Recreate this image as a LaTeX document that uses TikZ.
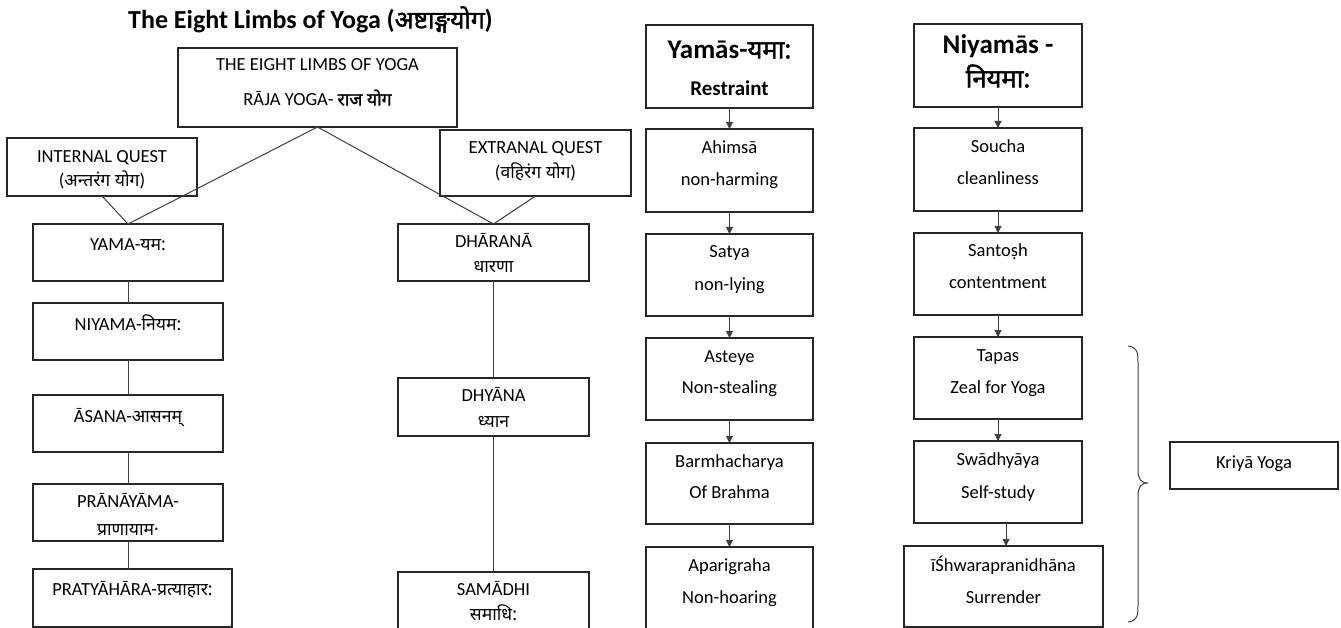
\documentclass[tikz,border=0pt]{standalone}
\usepackage{fontspec}
\setmainfont{Carlito}
\newfontfamily\dev[Script=Devanagari,Scale=0.95]{Noto Sans}
\newfontfamily\devb[Script=Devanagari,Scale=0.95,FakeBold=1.6]{Noto Sans}
\usetikzlibrary{arrows.meta}
\newcommand\dv[1]{{\dev #1}}
\newcommand\dvb[1]{{\devb #1}}
\newcommand\bx[5]{\node[box,minimum width=#4pt,minimum height=#5pt] (#1) at (#2,#3) {};}
\tikzset{
  box/.style={draw=black!85, line width=1.2pt, rectangle, inner sep=0pt, outer sep=0pt},
  txt/.style={anchor=mid, inner sep=0pt, yshift=-3pt, font=\fontsize{18.5}{21}\selectfont},
  btxt/.style={anchor=mid, inner sep=0pt, yshift=-2pt, font=\fontsize{27}{30}\selectfont\bfseries},
  conn/.style={draw=black!75, line width=1pt},
  arr/.style={draw=black!75, line width=1pt, -{Triangle[width=7pt,length=7pt]}},
}
\begin{document}
\begin{tikzpicture}[x=1pt,y=-1pt]
\fill[white] (0,0) rectangle (1341,628);
\useasboundingbox (0,0) rectangle (1341,628);

% title
\node[anchor=mid, inner sep=0pt, yshift=-2pt, font=\fontsize{26}{30}\selectfont\bfseries] (title) at (310.5,24) {The Eight Limbs of Yoga (\dvb{अष्टाङ्गयोग})};

% left tree boxes
\bx{top}{317.5}{87.5}{279}{79}
\bx{inq}{102}{167}{190}{58}
\bx{exq}{535.5}{163}{191}{66}
\bx{yama}{128}{252.5}{190}{57}
\bx{niyama}{128}{331.5}{190}{57}
\bx{asana}{128}{423.5}{190}{57}
\bx{prana}{128}{512.5}{190}{57}
\bx{praty}{132.5}{598}{199}{58}
\bx{dhar}{493.5}{252.5}{191}{57}
\bx{dhya}{493.5}{407}{191}{58}
\bx{sama}{493.5}{603}{191}{62}

% Yamas column
\bx{yamas}{729.5}{66.5}{167}{83}
\bx{ahimsa}{729.5}{170.5}{167}{83}
\bx{satya}{729.5}{275}{167}{82}
\bx{asteye}{729.5}{379}{167}{82}
\bx{brahm}{729.5}{483.5}{167}{81}
\bx{apari}{729.5}{590.5}{167}{87}

% Niyamas column
\bx{niyamas}{998}{65.5}{168}{83}
\bx{soucha}{998}{169.5}{168}{83}
\bx{santosh}{998}{274}{168}{82}
\bx{tapas}{998}{378}{168}{82}
\bx{swadh}{998}{482}{168}{82}
\bx{ishw}{1003.5}{586.5}{199}{81}
\bx{kriya}{1254}{465.5}{168}{47}

% texts left tree
\node[txt] (top-a) at (317.5,65) {THE EIGHT LIMBS OF YOGA};
\node[txt] (top-b) at (317.5,100) {RĀJA YOGA- \dvb{राज योग}};
\node[txt] (inq-a) at (102,157) {INTERNAL QUEST};
\node[txt] (inq-b) at (102,181) {(\dv{अन्तरंग योग})};
\node[txt] (exq-a) at (535.5,148) {EXTRANAL QUEST};
\node[txt] (exq-b) at (535.5,173) {(\dv{वहिरंग योग})};
\node[txt] (yama-t) at (128,245) {YAMA-\dv{यम:}};
\node[txt] (niyama-t) at (128,325) {NIYAMA-\dv{नियम:}};
\node[txt] (asana-t) at (128,417) {ĀSANA-\dv{आसनम्}};
\node[txt] (prana-a) at (128,502) {PRĀNĀYĀMA-};
\node[txt] (prana-b) at (128,530) {\dv{प्राणायाम·}};
\node[txt] (praty-t) at (132.5,590) {PRATYĀHĀRA-\dv{प्रत्याहार:}};
\node[txt] (dhar-a) at (493.5,242) {DHĀRANĀ};
\node[txt] (dhar-b) at (493.5,267) {\dv{धारणा}};
\node[txt] (dhya-a) at (493.5,396) {DHYĀNA};
\node[txt] (dhya-b) at (493.5,422) {\dv{ध्यान}};
\node[txt] (sama-a) at (493.5,590) {SAMĀDHI};
\node[txt] (sama-b) at (493.5,615) {\dv{समाधि:}};

% texts Yamas
\node[btxt] (yamas-a) at (729.5,54) {Yamās-\dvb{यमा:}};
\node[txt, font=\fontsize{21}{24}\selectfont\bfseries] (yamas-b) at (729.5,90) {Restraint};
\node[txt] (ahimsa-a) at (729.5,148) {Ahimsā};
\node[txt] (ahimsa-b) at (729.5,180) {non-harming};
\node[txt] (satya-a) at (729.5,252) {Satya};
\node[txt] (satya-b) at (729.5,285) {non-lying};
\node[txt] (asteye-a) at (729.5,357) {Asteye};
\node[txt] (asteye-b) at (729.5,388) {Non-stealing};
\node[txt] (brahm-a) at (729.5,462) {Barmhacharya};
\node[txt] (brahm-b) at (729.5,493) {Of Brahma};
\node[txt] (apari-a) at (729.5,566) {Aparigraha};
\node[txt] (apari-b) at (729.5,598) {Non-hoaring};

% texts Niyamas
\node[btxt] (niyamas-a) at (998,49) {Niyamās -};
\node[btxt] (niyamas-b) at (998,83) {\dvb{नियमा:}};
\node[txt] (soucha-a) at (998,147) {Soucha};
\node[txt] (soucha-b) at (998,179) {cleanliness};
\node[txt] (santosh-a) at (998,251) {Santoṣh};
\node[txt] (santosh-b) at (998,283) {contentment};
\node[txt] (tapas-a) at (998,356) {Tapas};
\node[txt] (tapas-b) at (998,388) {Zeal for Yoga};
\node[txt] (swadh-a) at (998,460) {Swādhyāya};
\node[txt] (swadh-b) at (998,493) {Self-study};
\node[txt] (ishw-a) at (1003.5,566) {īŚhwarapranidhāna};
\node[txt] (ishw-b) at (1003.5,598) {Surrender};
\node[txt] (kriya-t) at (1254,463) {Kriyā Yoga};

% connectors left tree
\draw[conn] (top.south) -- (yama.north);
\draw[conn] (top.south) -- (dhar.north);
\draw[conn] (inq.south) -- (yama.north);
\draw[conn] (exq.south) -- (dhar.north);
\draw[conn] (yama.south) -- (niyama.north);
\draw[conn] (niyama.south) -- (asana.north);
\draw[conn] (asana.south) -- (prana.north);
\draw[conn] (prana.south) -- (prana.south |- praty.north);
\draw[conn] (dhar.south) -- (dhya.north);
\draw[conn] (dhya.south) -- (sama.north);

% arrows
\draw[arr] (yamas.south) -- (ahimsa.north);
\draw[arr] (ahimsa.south) -- (satya.north);
\draw[arr] (satya.south) -- (asteye.north);
\draw[arr] (asteye.south) -- (brahm.north);
\draw[arr] (brahm.south) -- (apari.north);
\draw[arr] (niyamas.south) -- (soucha.north);
\draw[arr] (soucha.south) -- (santosh.north);
\draw[arr] (santosh.south) -- (tapas.north);
\draw[arr] (tapas.south) -- (swadh.north);
\draw[arr] ([xshift=2.5pt]ishw.north |- swadh.south) -- ([xshift=2.5pt]ishw.north);

% brace
\coordinate (brT) at (1128,346);
\coordinate (brM) at (1148,483);
\coordinate (brB) at (1128,622);
\draw[black!75, line width=1pt] (brT) .. controls (1137,347) and (1138,352) .. (1138,362) -- (1138,470)
  .. controls (1138,479) and (1141,483) .. (brM)
  .. controls (1141,483) and (1138,487) .. (1138,496) -- (1138,606)
  .. controls (1138,616) and (1137,621) .. (brB);
\end{tikzpicture}
\end{document}
